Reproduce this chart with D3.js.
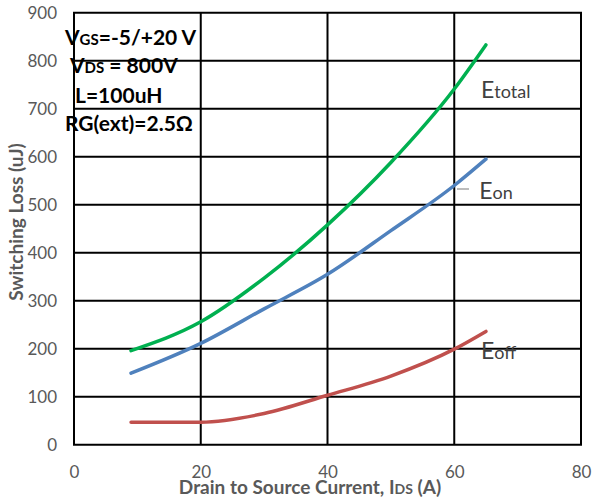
<!DOCTYPE html>
<html>
<head>
<meta charset="utf-8">
<script src="https://cdn.jsdelivr.net/npm/d3@7"></script>
<style>
  html, body { margin: 0; padding: 0; background: #fff; }
  svg { display: block; font-family: Lato, "Open Sans", sans-serif; }
</style>
</head>
<body>
<svg id="chart" width="595" height="502"></svg>
<script>
// ---- data ----
const currents = [9, 20, 30, 40, 50, 60, 65];
const eTotal = [196, 256, 347, 458, 588, 741, 833];
const eOn    = [149, 211, 283, 355, 446, 540, 595];
const eOff   = [47, 47, 65, 103, 143, 199, 236];
const xTicks = [0, 20, 40, 60, 80];
const yTicks = [0, 100, 200, 300, 400, 500, 600, 700, 800, 900];
const seriesNames = ["total", "on", "off"];

(function () {
const svg = d3.select("#chart");
const pLeft = 74, pRight = 581, pTop = 12.7, pBottom = 444.7;
const x = d3.scaleLinear().domain([0, 80]).range([pLeft, pRight]);
const y = d3.scaleLinear().domain([0, 900]).range([pBottom, pTop]);

// gridlines
const grid = svg.append("g");
grid.selectAll(".vg").data(xTicks).join("line")
  .attr("x1", d => x(d)).attr("x2", d => x(d))
  .attr("y1", y(0)).attr("y2", y(900))
  .attr("stroke", "#000").attr("stroke-width", 2);
grid.selectAll(".hg").data(yTicks).join("line")
  .attr("x1", x(0) - 1).attr("x2", x(80) + 1)
  .attr("y1", d => y(d)).attr("y2", d => y(d))
  .attr("stroke", "#000").attr("stroke-width", 2);

// axes labels
const xAxis = svg.append("g").attr("transform", `translate(0,${pBottom})`)
  .call(d3.axisBottom(x).tickValues(xTicks).tickSize(0).tickPadding(0));
xAxis.select(".domain").remove();
xAxis.selectAll("text").attr("y", 33).attr("dy", 0)
  .attr("font-family", "Lato").attr("font-size", 17).attr("fill", "#595959");

const yAxis = svg.append("g").attr("transform", `translate(${pLeft},0)`)
  .call(d3.axisLeft(y).tickValues(yTicks).tickSize(0).tickPadding(17));
yAxis.select(".domain").remove();
yAxis.selectAll("text").attr("font-family", "Lato").attr("font-size", 17).attr("fill", "#595959");

// lines
const line = d3.line().x(d => x(d[0])).y(d => y(d[1])).curve(d3.curveMonotoneX);
const series = [
  { vals: eTotal, color: "#00B050" },
  { vals: eOn, color: "#4F81BD" },
  { vals: eOff, color: "#C0504D" }
];
series.forEach(s => {
  svg.append("path")
    .datum(currents.map((c, i) => [c, s.vals[i]]))
    .attr("d", line)
    .attr("fill", "none").attr("stroke", s.color)
    .attr("stroke-width", 3.5).attr("stroke-linecap", "round").attr("stroke-linejoin", "round");
});

// axis titles
svg.append("text")
  .attr("x", 310).attr("y", 494).attr("text-anchor", "middle")
  .attr("font-family", "Lato").attr("font-weight", "bold").attr("font-size", 19).attr("fill", "#595959")
  .html('Drain to Source Current, I<tspan font-size="14">DS</tspan> (A)');
svg.append("text")
  .attr("transform", "translate(23,222) rotate(-90)")
  .attr("text-anchor", "middle")
  .attr("font-family", "Lato").attr("font-weight", "bold").attr("font-size", 19).attr("fill", "#595959")
  .text("Switching Loss (uJ)");

// condition annotations
const ann = svg.append("g").attr("font-family", "Lato").attr("font-weight", "bold").attr("font-size", 21).attr("fill", "#000");
ann.append("text").attr("x", 65).attr("y", 45)
  .html('V<tspan font-size="15">GS</tspan>=-5/+20 V');
ann.append("text").attr("x", 70).attr("y", 73)
  .html('V<tspan font-size="15">DS</tspan> = 800V');
ann.append("text").attr("x", 75).attr("y", 102.5).text("L=100uH");
ann.append("text").attr("x", 65).attr("y", 130.5).text("RG(ext)=2.5Ω");

// series labels
const lab = svg.append("g").attr("font-family", "Lato").attr("fill", "#404040");
const labelPos = [[481, 98.3], [479.3, 199.3], [481, 359.3]];
seriesNames.forEach((n, i) => {
  lab.append("text").attr("x", labelPos[i][0]).attr("y", labelPos[i][1]).attr("font-size", 23)
    .html(`E<tspan font-size="18">${n}</tspan>`);
});
svg.append("line").attr("x1", 457).attr("x2", 469).attr("y1", 189).attr("y2", 189)
  .attr("stroke", "#a6a6a6").attr("stroke-width", 1.5);
})();
</script>
</body>
</html>
